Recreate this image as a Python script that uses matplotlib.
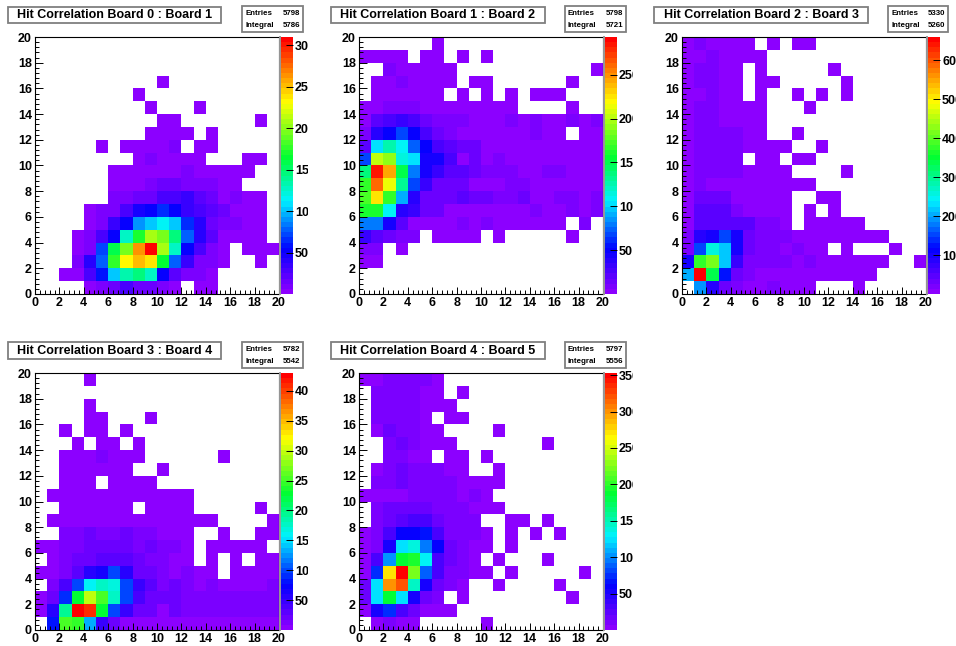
import numpy as np
import matplotlib
matplotlib.use("Agg")
import matplotlib.pyplot as plt
from matplotlib.colors import LinearSegmentedColormap
from matplotlib.patches import Rectangle
from matplotlib.ticker import MultipleLocator
from matplotlib.transforms import Bbox, TransformedBbox

plt.rcParams['font.family'] = ['Liberation Sans', 'DejaVu Sans']
plt.rcParams['font.weight'] = 'bold'

# =====================
# Data (rows run from y bin 19 at the top down to y bin 0, 0 = empty)
# =====================
board0 = [
    [0,0,0,0,0,0,0,0,0,0,0,0,0,0,0,0,0,0,0,0],
    [0,0,0,0,0,0,0,0,0,0,0,0,0,0,0,0,0,0,0,0],
    [0,0,0,0,0,0,0,0,0,0,0,0,0,0,0,0,0,0,0,0],
    [0,0,0,0,0,0,0,0,0,0,5,0,0,0,0,0,0,0,0,0],
    [0,0,0,0,0,0,0,0,5,0,0,0,0,0,0,0,0,0,0,0],
    [0,0,0,0,0,0,0,0,0,5,0,0,0,5,0,0,0,0,0,0],
    [0,0,0,0,0,0,0,0,0,0,5,5,0,0,0,0,0,0,5,0],
    [0,0,0,0,0,0,0,0,0,5,5,5,5,0,5,0,0,0,0,0],
    [0,0,0,0,0,5,0,5,5,5,5,12,0,5,5,0,0,0,0,0],
    [0,0,0,0,0,0,0,0,5,10,5,5,5,5,0,0,0,5,5,0],
    [0,0,0,0,0,0,5,5,5,5,5,5,10,5,5,5,5,5,0,0],
    [0,0,0,0,0,0,5,5,5,10,15,15,10,10,10,5,5,0,0,0],
    [0,0,0,0,0,0,8,8,18,14,28,28,32,22,18,5,12,5,5,0],
    [0,0,0,0,5,10,10,25,45,55,65,55,35,30,20,18,5,5,5,0],
    [0,0,0,0,5,10,35,55,90,105,115,100,65,40,15,12,12,5,5,0],
    [0,0,0,5,8,28,55,125,170,205,195,145,80,38,22,6,5,5,5,0],
    [0,0,0,5,12,70,160,195,265,310,210,125,55,28,12,5,0,5,5,5],
    [0,0,0,10,40,75,175,235,250,240,165,80,35,8,8,5,0,0,5,0],
    [0,0,5,5,28,60,100,135,145,130,55,20,10,10,5,0,0,0,0,0],
    [0,0,0,0,5,10,18,30,15,15,10,5,0,5,5,0,0,0,0,0],
]
board1 = [
    [0,0,0,0,0,0,2,0,0,0,0,0,0,0,0,0,0,0,0,0],
    [2,2,2,2,0,2,2,0,2,0,2,0,0,0,0,0,0,0,0,0],
    [0,0,7,2,2,2,2,2,0,0,0,0,0,0,0,0,0,0,0,2],
    [0,2,2,6,2,2,2,2,0,2,2,0,0,0,0,0,0,2,0,0],
    [0,2,5,5,5,5,5,0,2,0,2,0,2,0,2,2,2,0,0,0],
    [3,3,6,10,10,5,5,5,5,5,3,3,3,0,0,0,0,3,0,0],
    [5,22,28,35,28,12,6,6,10,5,5,3,6,3,6,3,3,6,3,7],
    [7,40,48,70,50,28,15,8,5,5,5,5,5,3,6,3,3,0,3,3],
    [22,105,125,110,72,50,25,18,12,12,5,5,5,3,3,5,5,3,3,3],
    [65,200,190,115,100,45,45,25,5,12,5,10,5,5,5,5,5,5,5,5],
    [135,285,245,150,80,45,35,20,20,12,6,10,10,5,5,10,10,5,5,5],
    [165,260,215,130,70,35,15,15,15,5,5,5,10,6,5,5,5,5,5,5],
    [175,225,165,90,40,15,12,12,18,12,12,6,6,15,5,2,7,7,2,7],
    [160,160,110,38,32,12,12,5,2,5,5,5,5,2,7,2,2,6,3,7],
    [80,80,42,18,5,5,5,2,8,2,7,2,2,2,2,2,2,0,8,0],
    [32,18,14,7,7,0,2,2,2,2,0,2,0,0,0,0,0,2,0,0],
    [6,6,0,3,0,0,0,0,0,0,0,0,0,0,0,0,0,0,0,0],
    [3,3,0,0,0,0,0,0,0,0,0,0,0,0,0,0,0,0,0,0],
    [0,0,0,0,0,0,0,0,0,0,0,0,0,0,0,0,0,0,0,0],
    [0,0,0,0,0,0,0,0,0,0,0,0,0,0,0,0,0,0,0,0],
]
board2 = [
    [5,20,5,5,5,5,0,5,0,5,5,0,0,0,0,0,0,0,0,0],
    [5,5,15,8,8,5,5,0,0,0,0,0,0,0,0,0,0,0,0,0],
    [3,15,15,6,6,0,3,0,0,0,0,0,3,0,0,0,0,0,0,0],
    [10,15,15,6,6,0,3,3,0,0,0,0,0,3,0,0,0,0,0,0],
    [5,5,15,6,6,0,3,0,0,3,0,3,0,3,0,0,0,0,0,0],
    [12,15,15,6,6,3,3,0,0,0,3,0,0,0,0,0,0,0,0,0],
    [12,15,15,6,6,3,3,0,0,0,0,0,0,0,0,0,0,0,0,0],
    [5,15,15,15,15,5,5,0,0,3,0,0,0,0,0,0,0,0,0,0],
    [10,15,15,15,15,5,5,5,5,0,0,3,0,0,0,0,0,0,0,0],
    [5,15,15,15,15,0,5,5,0,3,3,0,0,0,0,0,0,0,0,0],
    [10,15,15,15,15,5,5,5,5,0,0,0,0,3,0,0,0,0,0,0],
    [10,25,10,10,10,10,5,5,5,3,3,0,0,0,0,0,0,0,0,0],
    [8,30,30,30,10,10,10,5,5,0,0,3,3,0,0,0,0,0,0,0],
    [5,45,45,45,25,10,10,5,5,0,3,0,3,0,0,0,0,0,0,0],
    [8,40,40,50,40,40,15,15,5,0,3,3,3,3,3,0,0,0,0,0],
    [25,80,100,155,95,30,15,15,15,5,5,5,5,5,5,5,5,0,0,0],
    [25,150,260,215,95,35,15,15,5,15,5,5,0,5,0,0,0,3,0,0],
    [100,370,410,215,70,25,15,15,15,5,15,5,5,5,5,5,5,0,0,3],
    [200,660,340,130,30,25,10,10,10,5,5,5,5,5,5,5,0,0,0,0],
    [0,190,85,30,15,8,8,15,8,8,8,0,0,0,3,0,0,0,0,0],
]
board3 = [
    [0,0,0,0,4,0,0,0,0,0,0,0,0,0,0,0,0,0,0,0],
    [0,0,0,0,0,0,0,0,0,0,0,0,0,0,0,0,0,0,0,0],
    [0,0,0,0,4,0,0,0,0,0,0,0,0,0,0,0,0,0,0,0],
    [0,0,0,0,4,4,0,0,0,4,0,0,0,0,0,0,0,0,0,0],
    [0,0,4,0,4,4,0,4,0,0,0,0,0,0,0,0,0,0,0,0],
    [0,0,0,4,0,4,4,0,4,0,0,0,0,0,0,0,0,0,0,0],
    [0,0,4,4,4,10,4,4,4,0,0,0,0,0,0,4,0,0,0,0],
    [0,0,4,4,4,4,4,4,0,0,4,0,0,0,0,0,0,0,0,0],
    [0,0,4,4,4,0,4,4,4,4,0,0,0,0,0,0,0,0,0,0],
    [0,4,4,4,8,4,4,4,4,4,4,4,4,0,0,0,0,0,0,0],
    [0,0,4,4,4,8,8,4,0,4,4,4,4,0,0,0,0,0,4,0],
    [0,4,4,4,4,8,8,8,4,4,4,4,4,4,4,0,0,0,0,4],
    [0,0,12,12,18,10,10,20,12,12,6,6,6,0,0,4,0,0,4,4],
    [6,6,14,14,20,20,20,20,14,22,12,12,6,0,6,6,6,6,6,0],
    [0,6,14,22,22,30,30,30,25,14,14,6,6,0,6,0,6,0,6,6],
    [6,6,14,30,60,65,95,55,22,22,14,6,14,6,6,0,6,6,6,6],
    [0,10,35,95,160,180,165,95,45,30,14,22,12,6,12,6,6,6,6,12],
    [6,22,90,225,295,250,180,95,40,18,18,18,12,12,12,12,12,12,12,12],
    [8,55,190,430,410,230,95,50,20,18,8,18,10,10,10,10,10,10,10,10],
    [0,85,250,245,130,45,18,8,8,8,8,8,8,5,5,8,5,5,8,5],
]
board4 = [
    [3,3,10,10,10,10,3,0,0,0,0,0,0,0,0,0,0,0,0,0],
    [0,10,10,10,10,3,3,0,3,0,0,0,0,0,0,0,0,0,0,0],
    [0,10,10,10,10,3,3,3,0,0,0,0,0,0,0,0,0,0,0,0],
    [0,10,10,10,10,3,0,3,3,0,0,0,0,0,0,0,0,0,0,0],
    [0,3,15,8,8,3,3,0,0,0,0,3,0,0,0,0,0,0,0,0],
    [0,0,8,15,8,3,3,3,0,0,0,0,0,0,0,3,0,0,0,0],
    [0,0,8,8,3,3,0,3,3,0,3,0,0,0,0,0,0,0,0,0],
    [0,3,8,15,8,8,8,3,3,0,0,3,0,0,0,0,0,0,0,0],
    [0,8,8,20,8,14,8,8,3,3,3,3,0,0,0,0,0,0,0,0],
    [3,3,6,6,12,12,12,8,3,8,3,0,0,0,0,0,0,0,0,0],
    [0,8,18,18,18,18,14,8,8,3,3,3,0,0,0,0,0,0,0,0],
    [0,8,18,28,35,30,20,12,8,8,0,0,3,3,0,3,0,0,0,0],
    [3,14,30,60,60,70,35,14,8,8,3,0,3,0,3,0,3,0,0,0],
    [3,14,55,125,140,95,60,18,14,5,3,0,3,0,0,0,0,0,0,0],
    [5,35,105,185,195,130,35,16,8,3,0,3,0,0,0,3,0,0,0,0],
    [5,75,270,353,225,90,35,8,8,3,3,0,3,0,0,0,0,0,3,0],
    [20,125,300,320,145,50,15,8,3,0,0,3,0,0,0,0,3,0,0,0],
    [20,125,185,125,55,15,8,0,3,0,0,0,0,0,0,0,0,3,0,0],
    [5,50,75,30,15,5,3,3,0,0,0,0,0,0,0,0,0,0,0,0],
    [0,6,10,3,3,0,0,0,0,0,3,0,0,0,0,0,0,0,0,0],
]
boards = [board0, board1, board2, board3, board4]
titles = ["Hit Correlation Board 0 : Board 1", "Hit Correlation Board 1 : Board 2",
          "Hit Correlation Board 2 : Board 3", "Hit Correlation Board 3 : Board 4",
          "Hit Correlation Board 4 : Board 5"]
entries = [5798, 5798, 5330, 5782, 5797]
integrals = [5786, 5721, 5260, 5542, 5556]
zmax = [310, 293, 660, 430, 353]
zstep = [50, 50, 100, 50, 50]

# pixel layout: axes left/top/right/bottom, colorbar left/right,
# title box left/right/top/bottom, stats box left/right/top/bottom, label clip edge
W, H = 956, 646
layout = [
    (35, 37, 279, 294, 280, 293, 8, 221, 7, 23, 242, 303, 6, 32, 308),
    (359, 37, 603, 294, 604, 617, 331, 545, 7, 23, 565, 626, 6, 32, 633),
    (682, 37, 926, 294, 927, 940, 654, 868, 7, 23, 888, 948, 6, 32, 956),
    (35, 373, 279, 630, 280, 293, 8, 221, 342, 359, 242, 303, 342, 368, 308),
    (359, 373, 603, 630, 604, 617, 331, 545, 342, 359, 565, 626, 342, 368, 633),
]

root_cmap = LinearSegmentedColormap.from_list("root", [
    (0.00, (0.55, 0.0, 1.0)),
    (0.17, (0.0, 0.0, 1.0)),
    (0.36, (0.0, 0.95, 1.0)),
    (0.53, (0.0, 1.0, 0.2)),
    (0.75, (1.0, 1.0, 0.0)),
    (1.00, (1.0, 0.0, 0.0)),
], N=50)


def px_rect(left, top, right, bottom):
    return [left / W, 1 - bottom / H, (right - left) / W, (bottom - top) / H]


def add_box(fig, left, top, right, bottom):
    # grey framed box with a darker edge, like the ROOT pave
    box = Rectangle((left / W, 1 - bottom / H), (right - left) / W, (bottom - top) / H,
                    transform=fig.transFigure, facecolor='white', edgecolor='#7f7f7f', lw=1.3)
    fig.add_artist(box)


fig = plt.figure(figsize=(W / 100, H / 100), dpi=100)
edges = np.arange(21)

for i, rows in enumerate(boards):
    ax_l, ax_t, ax_r, ax_b, cb_l, cb_r, ti_l, ti_r, ti_t, ti_b, st_l, st_r, st_t, st_b, clip_r = layout[i]
    counts = np.array(rows, dtype=float)[::-1]

    ax = fig.add_axes(px_rect(ax_l, ax_t, ax_r, ax_b))
    mesh = ax.pcolormesh(edges, edges, np.ma.masked_equal(counts, 0), cmap=root_cmap,
                         vmin=0, vmax=zmax[i], edgecolors='none')
    ax.set_xlim(0, 20)
    ax.set_ylim(0, 20)
    ax.xaxis.set_major_locator(MultipleLocator(2))
    ax.yaxis.set_major_locator(MultipleLocator(2))
    ax.xaxis.set_minor_locator(MultipleLocator(0.4))
    ax.yaxis.set_minor_locator(MultipleLocator(0.4))
    ax.tick_params(which='major', direction='in', length=5.4, width=0.7, labelsize=9, pad=2.2)
    ax.tick_params(which='minor', direction='in', length=2.9, width=0.7)
    for sp in ax.spines.values():
        sp.set_linewidth(0.8)

    cax = fig.add_axes(px_rect(cb_l, ax_t, cb_r, ax_b))
    cb = fig.colorbar(mesh, cax=cax)
    cb.set_ticks(np.arange(zstep[i], zmax[i], zstep[i]))
    cb.outline.set_visible(False)
    cax.tick_params(which='major', direction='in', length=5.4, width=0.7, labelsize=9, pad=1.5,
                    color='black')
    cax.plot([0, 0], [0, 1], transform=cax.transAxes, color='#999999', lw=1.4, clip_on=False)
    # labels run off the pad on the right and get cut there
    clip = TransformedBbox(Bbox([[0, 0], [clip_r / W, 1]]), fig.transFigure)
    for lab in cax.get_yticklabels():
        lab.set_clip_on(True)
        lab.set_clip_box(clip)

    add_box(fig, ti_l, ti_t, ti_r, ti_b)
    fig.text((ti_l + ti_r) / 2 / W, 1 - (ti_t + ti_b) / 2 / H, titles[i],
             ha='center', va='center', fontsize=9, weight='bold')

    add_box(fig, st_l, st_t, st_r, st_b)
    row1 = st_t + (st_b - st_t) * 0.27
    row2 = st_t + (st_b - st_t) * 0.75
    fig.text((st_l + 3) / W, 1 - row1 / H, "Entries", ha='left', va='center', fontsize=5.7, weight='bold')
    fig.text((st_r - 3) / W, 1 - row1 / H, str(entries[i]), ha='right', va='center', fontsize=5.7, weight='bold')
    fig.text((st_l + 3) / W, 1 - row2 / H, "Integral", ha='left', va='center', fontsize=5.7, weight='bold')
    fig.text((st_r - 3) / W, 1 - row2 / H, str(integrals[i]), ha='right', va='center', fontsize=5.7, weight='bold')

fig.savefig("out.png", dpi=100)
